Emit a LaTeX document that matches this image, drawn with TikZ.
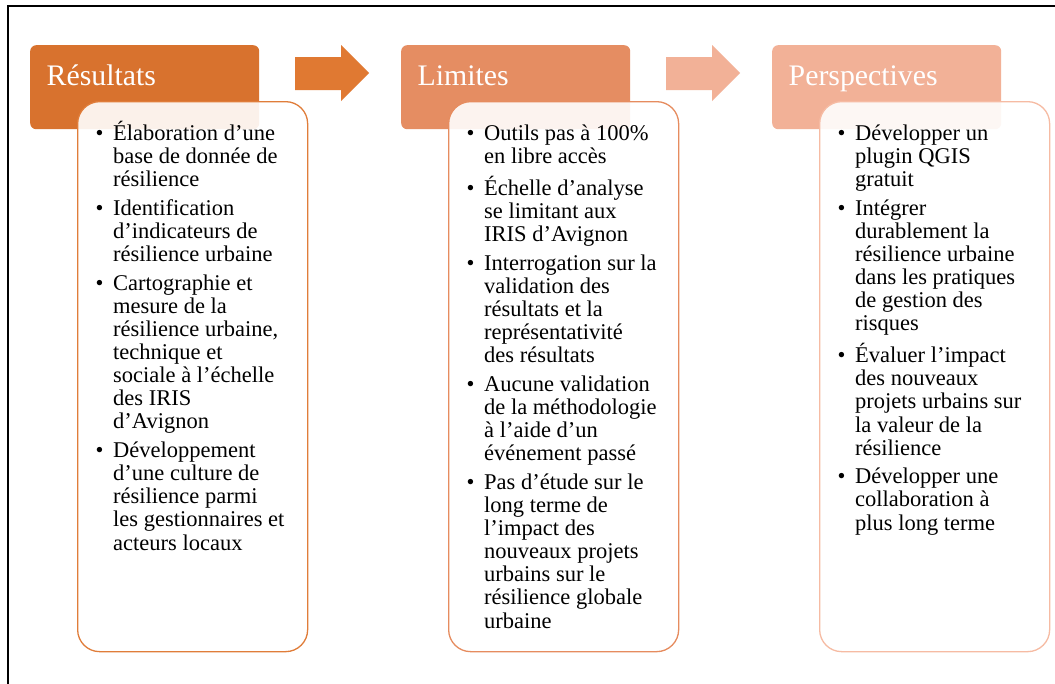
\documentclass[tikz,border=0pt]{standalone}
\usepackage{fontspec}
\setmainfont{Liberation Serif}
\definecolor{hA}{RGB}{216,114,46}
\definecolor{aA}{RGB}{224,121,50}
\definecolor{bA}{RGB}{224,125,58}
\definecolor{hB}{RGB}{229,141,98}
\definecolor{bB}{RGB}{230,140,95}
\definecolor{hC}{RGB}{242,177,151}
\definecolor{bC}{RGB}{246,187,163}
\newcommand{\bul}{\makebox[17.5pt][l]{\textbullet}}
\tikzset{
  headbox/.style={rectangle, rounded corners=6pt, anchor=north west, inner sep=0pt,
    minimum width=229pt, minimum height=84pt, text width=196pt, inner xsep=16.5pt,
    align=left, text=white, text height=20pt, text depth=23pt,
    font=\fontsize{29.8}{32}\selectfont},
  bodybox/.style={rectangle, rounded corners=22pt, anchor=north west, draw, line width=1.3pt,
    fill=white, fill opacity=0.9, minimum width=230pt, minimum height=550pt},
  listtext/.style={inner sep=0pt, anchor=base west, text=black,
    font=\fontsize{22.5}{23.1}\selectfont},
}
\begin{document}
\begin{tikzpicture}[x=1pt,y=-1pt]
\useasboundingbox (0,0) rectangle (1055,683);
\fill[white] (0,0) rectangle (1055,683);
\draw[line width=2pt] (8,690) -- (8,6) -- (1060,6);
% headers
\node[headbox, fill=hA] (h1) at (30,45) {Résultats};
\node[headbox, fill=hB] (h2) at (401,45) {Limites};
\node[headbox, fill=hC] (h3) at (772,45) {Perspectives};
% arrows
\fill[aA] (295,57) -- (341,57) -- (341,45) -- (369,73) -- (341,101) -- (341,90) -- (295,90) -- cycle;
\fill[hC] (666,57) -- (712,57) -- (712,45) -- (740,73) -- (712,101) -- (712,90) -- (666,90) -- cycle;
% bodies
\node[bodybox, draw=bA] (b1) at (77,101) {};
\node[bodybox, draw=bB] (b2) at (448,101) {};
\node[bodybox, draw=bC] (b3) at (819,101) {};
% texts
\node[listtext] (t1) at (95.5,140.5) {\begin{tabular}[t]{@{}l@{}l@{}}
\bul & Élaboration d’une\\
 & base de donnée de\\
 & résilience\\[5.6pt]
\bul & Identification\\
 & d’indicateurs de\\
 & résilience urbaine\\[5.6pt]
\bul & Cartographie et\\
 & mesure de la\\
 & résilience urbaine,\\
 & technique et\\
 & sociale à l’échelle\\
 & des IRIS\\
 & d’Avignon\\[5.6pt]
\bul & Développement\\
 & d’une culture de\\
 & résilience parmi\\
 & les gestionnaires et\\
 & acteurs locaux
\end{tabular}};
\node[listtext] (t2) at (466.5,140.5) {\begin{tabular}[t]{@{}l@{}l@{}}
\bul & Outils pas à 100\%\\
 & en libre accès\\[5.6pt]
\bul & Échelle d’analyse\\
 & se limitant aux\\
 & IRIS d’Avignon\\[5.6pt]
\bul & Interrogation sur la\\
 & validation des\\
 & résultats et la\\
 & représentativité\\
 & des résultats\\[5.6pt]
\bul & Aucune validation\\
 & de la méthodologie\\
 & à l’aide d’un\\
 & événement passé\\[5.6pt]
\bul & Pas d’étude sur le\\
 & long terme de\\
 & l’impact des\\
 & nouveaux projets\\
 & urbains sur le\\
 & résilience globale\\
 & urbaine
\end{tabular}};
\node[listtext] (t3) at (837.5,140.5) {\begin{tabular}[t]{@{}l@{}l@{}}
\bul & Développer un\\
 & plugin QGIS\\
 & gratuit\\[5.6pt]
\bul & Intégrer\\
 & durablement la\\
 & résilience urbaine\\
 & dans les pratiques\\
 & de gestion des\\
 & risques\\[5.6pt]
\bul & Évaluer l’impact\\
 & des nouveaux\\
 & projets urbains sur\\
 & la valeur de la\\
 & résilience\\[5.6pt]
\bul & Développer une\\
 & collaboration à\\
 & plus long terme
\end{tabular}};
\end{tikzpicture}
\end{document}
